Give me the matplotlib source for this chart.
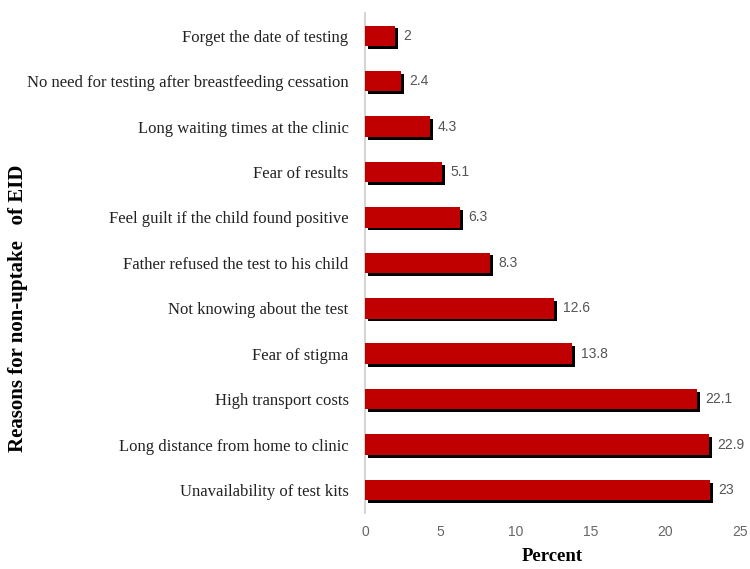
import matplotlib
matplotlib.use("Agg")
import matplotlib.pyplot as plt
import matplotlib.patheffects as pe

categories = [
    "Forget the date of testing",
    "No need for testing after breastfeeding cessation",
    "Long waiting times at the clinic",
    "Fear of results",
    "Feel guilt if the child found positive",
    "Father refused the test to his child",
    "Not knowing about the test",
    "Fear of stigma",
    "High transport costs",
    "Long distance from home to clinic",
    "Unavailability of test kits",
]
values = [2, 2.4, 4.3, 5.1, 6.3, 8.3, 12.6, 13.8, 22.1, 22.9, 23]
value_labels = ["2", "2.4", "4.3", "5.1", "6.3", "8.3", "12.6", "13.8", "22.1", "22.9", "23"]
xticks = [0, 5, 10, 15, 20, 25]

fig = plt.figure(figsize=(7.5, 5.69), dpi=100)
ax = fig.add_axes([0.487, 0.099, 0.5, 0.878])

y = list(range(len(categories)))
bars = ax.barh(y, values, height=0.45, color="#C00000", zorder=3)
for b in bars:
    b.set_path_effects([pe.SimplePatchShadow(offset=(2.0, -2.0), shadow_rgbFace="black", alpha=1.0), pe.Normal()])

for yi, v, lab in zip(y, values, value_labels):
    ax.text(v + 0.55, yi, lab, va="center", ha="left", fontsize=10,
            color="#555555", family="Liberation Sans")

ax.set_ylim(len(categories) - 0.5, -0.5)
ax.set_xlim(0, 25)
ax.set_yticks(y)
ax.set_yticklabels(categories, family="Liberation Serif", fontsize=12, color="#222222")
ax.set_xticks(xticks)
ax.set_xticklabels([str(t) for t in xticks], family="Liberation Sans", fontsize=10, color="#666666")
ax.tick_params(axis="both", length=0)
ax.tick_params(axis="x", pad=9)
ax.tick_params(axis="y", pad=12)

for s in ["top", "right", "bottom"]:
    ax.spines[s].set_visible(False)
ax.spines["left"].set_color("#CCCCCC")
ax.spines["left"].set_linewidth(1.2)

ax.set_xlabel("Percent", family="Liberation Serif", fontsize=13.5, fontweight="bold", labelpad=6)
fig.text(0.024, 0.459, "Reasons for non-uptake   of EID", rotation=90, va="center", ha="center",
         family="Liberation Serif", fontsize=15, fontweight="bold")

fig.savefig("out.png", dpi=100)
